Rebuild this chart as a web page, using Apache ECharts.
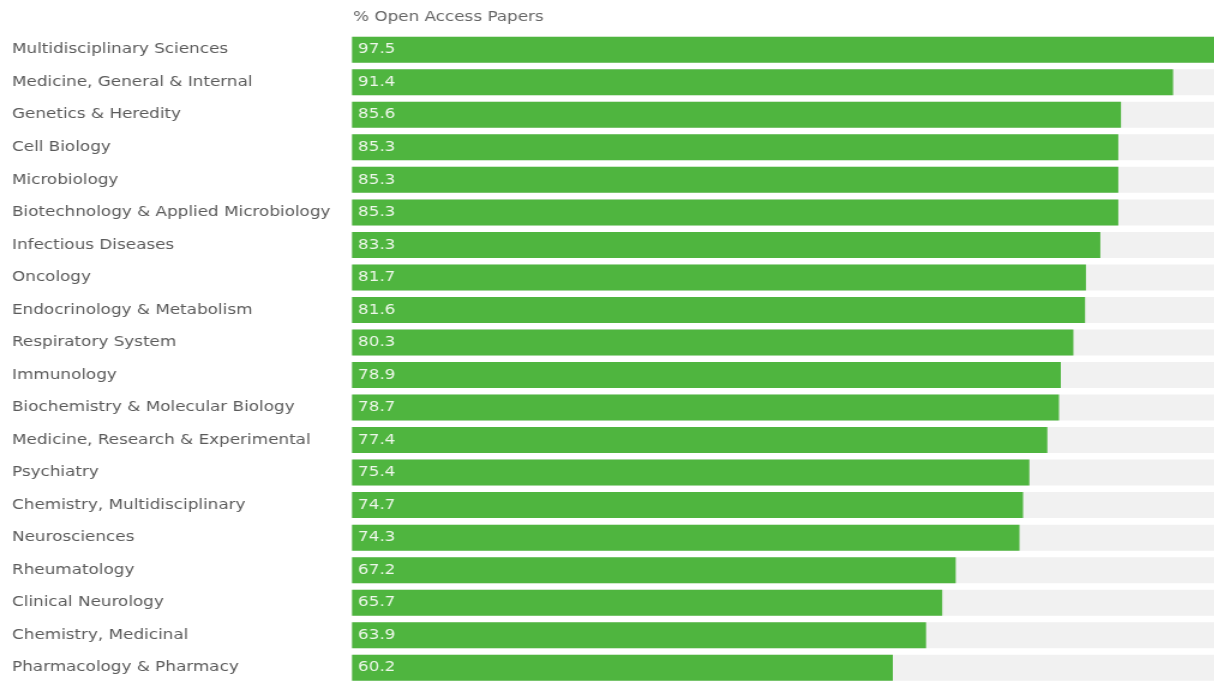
<!DOCTYPE html>
<html>
<head>
<meta charset="utf-8">
<style>
  html, body { margin: 0; padding: 0; background: #fff; overflow: hidden; }
  /* the chart is laid out in a narrower box and widened horizontally */
  #chart { width: 1011.67px; height: 684px; transform: scaleX(1.2); transform-origin: 0 0; }
</style>
<script src="https://cdn.jsdelivr.net/npm/echarts@6/dist/echarts.min.js"></script>
</head>
<body>
<div id="chart"></div>
<script>
// Research categories, ranked by share of open access papers
const categories = [
  'Multidisciplinary Sciences',
  'Medicine, General & Internal',
  'Genetics & Heredity',
  'Cell Biology',
  'Microbiology',
  'Biotechnology & Applied Microbiology',
  'Infectious Diseases',
  'Oncology',
  'Endocrinology & Metabolism',
  'Respiratory System',
  'Immunology',
  'Biochemistry & Molecular Biology',
  'Medicine, Research & Experimental',
  'Psychiatry',
  'Chemistry, Multidisciplinary',
  'Neurosciences',
  'Rheumatology',
  'Clinical Neurology',
  'Chemistry, Medicinal',
  'Pharmacology & Pharmacy'
];
const openAccessPct = [97.5, 91.4, 85.6, 85.3, 85.3, 85.3, 83.3, 81.7, 81.6, 80.3,
                       78.9, 78.7, 77.4, 75.4, 74.7, 74.3, 67.2, 65.7, 63.9, 60.2];
const axisTitle = '% Open Access Papers';

const FONT = 'DejaVu Sans';
const SX = 1.2;               // horizontal stretch applied by CSS
const px = v => v / SX;       // convert a screen x distance to layout units

const chart = echarts.init(document.getElementById('chart'), null, { renderer: 'canvas' });
chart.setOption({
  animation: false,
  title: {
    text: axisTitle,
    left: px(353),
    top: 10,
    padding: 0,
    textStyle: { fontFamily: FONT, fontSize: 14, fontWeight: 'normal', color: '#666' }
  },
  grid: { left: px(352), right: 0, top: 33.5, bottom: -8.5, containLabel: false },
  xAxis: {
    type: 'value', min: 0, max: 96, show: false
  },
  yAxis: {
    type: 'category',
    data: categories,
    inverse: true,
    axisLine: { show: false },
    axisTick: { show: false },
    splitLine: { show: false },
    axisLabel: {
      align: 'left',
      margin: px(340),
      padding: [2, 0, 0, 0],
      fontFamily: FONT,
      fontSize: 14,
      color: '#5a5a5a'
    }
  },
  series: [{
    type: 'bar',
    data: openAccessPct,
    barWidth: 26,
    clip: true,
    showBackground: true,
    backgroundStyle: { color: '#f1f1f1' },
    itemStyle: { color: '#4fb53f' },
    label: {
      show: true,
      position: 'insideLeft',
      distance: px(6),
      padding: [1, 0, 0, 0],
      fontFamily: FONT,
      fontSize: 14,
      color: '#eef7ea',
      formatter: p => p.value.toFixed(1)
    }
  }]
});
</script>
</body>
</html>
